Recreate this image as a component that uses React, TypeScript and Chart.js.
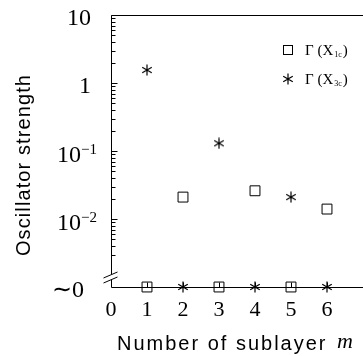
import React, { useEffect, useRef } from "react";
import { Chart, registerables } from "chart.js";

Chart.register(...registerables);

// ---- data ----
const sublayers = [1, 2, 3, 4, 5, 6];
const gammaX1c = [0, 0.021, 0, 0.026, 0, 0.014]; // 0 = "~0" row
const gammaX3c = [1.55, 0, 0.13, 0, 0.021, 0];
const xTickValues = [0, 1, 2, 3, 4, 5, 6];
const yDecades = [10, 1, 0.1, 0.01];
const yDecadeBase = ["10", "1", "10", "10"];
const yDecadeExp = ["", "", "\u22121", "\u22122"];
const zeroLabel = "\u223C0";
const seriesBase = ["\u0393 (X", "\u0393 (X"];
const seriesSub = ["1c", "3c"];
const yTitle = "Oscillator strength";
const xTitle = "Number of sublayer";
const xTitleVar = "m";

const Y_FLOOR = 0.001; // value used to place the "~0" row
const Y_MAX = 10;
const X_MAX = 7;

const W = 363;
const H = 356;
const SERIF = "'Liberation Serif', 'Times New Roman', serif";
const SANS = "'Liberation Sans', Arial, sans-serif";

function makeStar(size: number, lw: number): HTMLCanvasElement {
  const c = document.createElement("canvas");
  c.width = size;
  c.height = size;
  const g = c.getContext("2d")!;
  g.strokeStyle = "#000";
  g.lineWidth = lw;
  const cx = size / 2;
  const cy = size / 2;
  const r = size / 2 - 0.5;
  g.beginPath();
  for (let k = 0; k < 3; k++) {
    const a = Math.PI / 2 + (k * Math.PI) / 3;
    g.moveTo(cx + r * Math.cos(a), cy + r * Math.sin(a));
    g.lineTo(cx - r * Math.cos(a), cy - r * Math.sin(a));
  }
  g.stroke();
  return c;
}

function seg(ctx: CanvasRenderingContext2D, x1: number, y1: number, x2: number, y2: number) {
  ctx.beginPath();
  ctx.moveTo(x1, y1);
  ctx.lineTo(x2, y2);
  ctx.stroke();
}

export default function App() {
  const ref = useRef<HTMLCanvasElement>(null);

  useEffect(() => {
    const star = makeStar(12, 1.2);
    const legendStar = makeStar(12, 1.2);

    const decor = {
      id: "decor",
      beforeDatasetsDraw(chart: any) {
        const { ctx, chartArea: a, scales } = chart;
        const xs = scales.x;
        const ys = scales.y;
        ctx.save();
        ctx.strokeStyle = "#000";
        ctx.lineWidth = 1;
        const bx = Math.round(a.left) + 0.5;
        const by = Math.round(a.bottom) + 0.5;
        const ty = Math.round(a.top) + 0.5;
        // top frame line
        seg(ctx, bx, ty, a.right, ty);
        // bottom axis line
        seg(ctx, bx, by, a.right, by);
        // left axis with a break
        const breakTop = a.bottom - 13;
        const breakBot = a.bottom - 7;
        seg(ctx, bx, ty, bx, breakTop);
        seg(ctx, bx, breakBot, bx, by);
        // break marks
        seg(ctx, bx - 8, breakTop + 4, bx + 6, breakTop - 2);
        seg(ctx, bx - 8, breakBot + 3, bx + 6, breakBot - 3);
        // y ticks pointing inward
        for (let e = -3; e <= 1; e++) {
          for (let m = 1; m <= 9; m++) {
            const v = m * Math.pow(10, e);
            if (v > Y_MAX * 1.0001) continue;
            const y = Math.round(ys.getPixelForValue(v)) + 0.5;
            if (y > breakTop - 8) continue;
            const len = m === 1 ? 6 : 4;
            seg(ctx, bx, y, bx + len, y);
          }
        }
        // x ticks pointing inward
        for (const v of xTickValues) {
          if (v === 0) continue;
          const x = Math.round(xs.getPixelForValue(v)) + 0.5;
          seg(ctx, x, by, x, by - 5);
        }
        ctx.restore();
      },
      afterDraw(chart: any) {
        const { ctx, scales } = chart;
        const ys = scales.y;
        ctx.save();
        ctx.fillStyle = "#000";
        ctx.textBaseline = "alphabetic";
        // y decade labels
        yDecades.forEach((v, i) => {
          const y = ys.getPixelForValue(v);
          const base = yDecadeBase[i];
          const exp = yDecadeExp[i];
          if (!exp) {
            ctx.font = `24px ${SERIF}`;
            ctx.textAlign = "right";
            ctx.fillText(base, 91, y + 10);
          } else {
            ctx.font = `15px ${SERIF}`;
            const supW = ctx.measureText(exp).width;
            const baseRight = 97 - supW;
            ctx.textAlign = "left";
            ctx.fillText(exp, baseRight, y + 3);
            ctx.font = `24px ${SERIF}`;
            ctx.textAlign = "right";
            ctx.fillText(base, baseRight, y + 11);
          }
        });
        // "~0" label
        ctx.font = `24px ${SERIF}`;
        ctx.textAlign = "right";
        ctx.fillText(zeroLabel, 84, ys.getPixelForValue(Y_FLOOR) + 10);

        // y title
        ctx.save();
        ctx.translate(24, 165);
        ctx.rotate(-Math.PI / 2);
        ctx.font = `20px ${SANS}`;
        (ctx as any).letterSpacing = "1.1px";
        ctx.textAlign = "center";
        ctx.textBaseline = "middle";
        ctx.fillText(yTitle, 0, 0);
        ctx.restore();

        // x title
        ctx.save();
        ctx.font = `20px ${SANS}`;
        (ctx as any).letterSpacing = "2px";
        ctx.textAlign = "left";
        ctx.fillText(xTitle, 117, 350);
        ctx.restore();
        ctx.font = `italic 22px ${SERIF}`;
        ctx.textAlign = "left";
        ctx.fillText(xTitleVar, 337, 348);

        // legend
        const rows = [50, 79];
        rows.forEach((ry, i) => {
          ctx.lineWidth = 1;
          ctx.strokeStyle = "#000";
          if (i === 0) {
            ctx.strokeRect(283.5, ry - 4.5, 9, 9);
          } else {
            ctx.drawImage(legendStar, 288 - 6, ry - 6);
          }
          ctx.textAlign = "left";
          ctx.font = `15px ${SERIF}`;
          let x = 305;
          ctx.fillText(seriesBase[i], x, ry + 5);
          x += ctx.measureText(seriesBase[i]).width + 1;
          ctx.font = `8px ${SERIF}`;
          ctx.fillText(seriesSub[i], x, ry + 7);
          x += ctx.measureText(seriesSub[i]).width + 1;
          ctx.font = `15px ${SERIF}`;
          ctx.fillText(")", x, ry + 5);
        });
        ctx.restore();
      },
    };

    const chart = new Chart(ref.current!, {
      type: "scatter",
      data: {
        datasets: [
          {
            label: "Γ(X1c)",
            data: sublayers.map((x, i) => ({ x, y: gammaX1c[i] > 0 ? gammaX1c[i] : Y_FLOOR })),
            pointStyle: "rect",
            pointRadius: 7,
            pointBorderWidth: 1,
            borderColor: "#000",
            backgroundColor: "rgba(0,0,0,0)",
            clip: false as any,
          },
          {
            label: "Γ(X3c)",
            data: sublayers.map((x, i) => ({ x, y: gammaX3c[i] > 0 ? gammaX3c[i] : Y_FLOOR })),
            pointStyle: star as any,
            pointRadius: 6,
            borderColor: "#000",
            backgroundColor: "#000",
            clip: false as any,
          },
        ],
      },
      options: {
        responsive: false,
        animation: false,
        events: [],
        layout: { autoPadding: false, padding: { top: 15, right: 0, left: 0, bottom: 0 } },
        plugins: { legend: { display: false }, tooltip: { enabled: false } },
        scales: {
          x: {
            type: "linear",
            min: 0,
            max: X_MAX,
            grid: { display: false },
            border: { display: false },
            afterBuildTicks: (s: any) => {
              s.ticks = xTickValues.map((v) => ({ value: v }));
            },
            afterFit: (s: any) => {
              s.height = 69;
              s.paddingRight = 0;
              s.paddingLeft = 0;
            },
            ticks: {
              autoSkip: false,
              maxRotation: 0,
              padding: 2,
              color: "#000",
              font: { family: SERIF, size: 22 },
              callback: (v: any) => String(v),
            },
          },
          y: {
            type: "logarithmic",
            min: Y_FLOOR,
            max: Y_MAX,
            grid: { display: false },
            border: { display: false },
            ticks: { display: false },
            afterFit: (s: any) => {
              s.width = 111;
              s.paddingTop = 0;
              s.paddingBottom = 0;
            },
          },
        },
      },
      plugins: [decor],
    });
    return () => chart.destroy();
  }, []);

  return (
    <canvas
      ref={ref}
      width={W}
      height={H}
      style={{ position: "absolute", left: 0, top: 0, width: W, height: H }}
    />
  );
}
